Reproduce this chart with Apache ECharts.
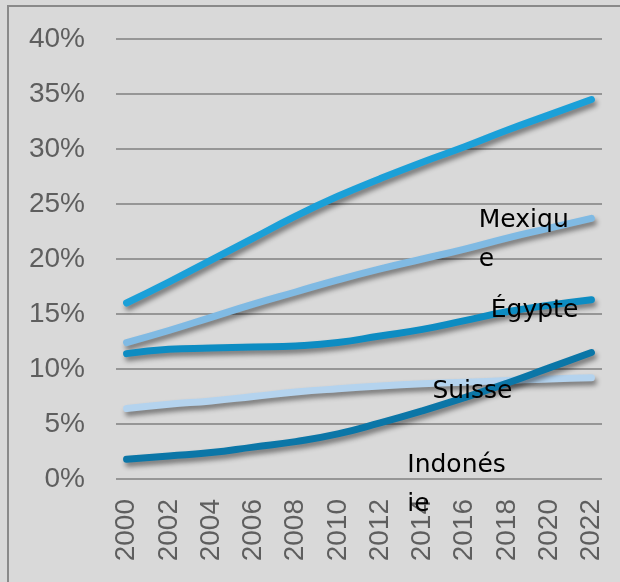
<!DOCTYPE html>
<html>
<head>
<meta charset="utf-8">
<script src="https://cdn.jsdelivr.net/npm/echarts@6/dist/echarts.min.js"></script>
<style>
  html, body { margin: 0; padding: 0; background: #d9d9d9; }
  #frame {
    position: absolute; left: 7px; top: 5px;
    width: 640px; height: 620px;
    border-left: 2px solid #8a8a8a; border-top: 2px solid #8a8a8a;
  }
  #chart { position: absolute; left: 0; top: 0; width: 620px; height: 582px; }
</style>
</head>
<body>
<div id="frame"></div>
<div id="chart"></div>
<script>
// categories: every year, labels every other year
const years = []
for (let y = 2000; y <= 2022; y++) years.push(String(y))
const pointYears = ['2000', '2002', '2004', '2006', '2008', '2010', '2012', '2014', '2016', '2018', '2020', '2022']

const serieHaute = [16.0, 17.9, 19.9, 21.9, 23.9, 25.7, 27.3, 28.8, 30.2, 31.7, 33.1, 34.5]
const mexique = [12.4, 13.5, 14.7, 15.9, 17.0, 18.1, 19.1, 20.0, 20.9, 21.9, 22.8, 23.7]
const egypte = [11.4, 11.8, 11.9, 12.0, 12.1, 12.4, 13.0, 13.6, 14.4, 15.2, 15.8, 16.3]
const suisse = [6.4, 6.8, 7.1, 7.5, 7.9, 8.2, 8.45, 8.65, 8.8, 8.95, 9.1, 9.2]
const indonesie = [1.8, 2.1, 2.4, 2.9, 3.4, 4.1, 5.1, 6.2, 7.4, 8.7, 10.1, 11.5]

const yTicks = [0, 5, 10, 15, 20, 25, 30, 35, 40]

const labelFont = 'DejaVu Sans'

function pairs(vals) {
  return vals.map((v, i) => [pointYears[i], v])
}

function tag(text, coord, dx, dy) {
  return {
    symbol: 'rect',
    symbolSize: 0,
    silent: true,
    label: {
      show: true,
      position: 'inside',
      align: 'left',
      verticalAlign: 'middle',
      color: '#000',
      fontFamily: labelFont,
      fontSize: 25,
      lineHeight: 39,
      offset: [dx, dy],
      formatter: text
    },
    data: [{ coord }]
  }
}

function line(name, color, vals, mark) {
  return {
    name,
    type: 'line',
    smooth: true,
    showSymbol: false,
    data: pairs(vals),
    lineStyle: {
      color,
      width: 7,
      cap: 'round',
      shadowColor: 'rgba(0,0,0,0.45)',
      shadowBlur: 5,
      shadowOffsetX: 2,
      shadowOffsetY: 4
    },
    itemStyle: { color },
    markPoint: mark
  }
}

const chart = echarts.init(document.getElementById('chart'))
chart.setOption({
  animation: false,
  backgroundColor: 'transparent',
  grid: { left: 116, right: 18, top: 39, bottom: 103 },
  xAxis: {
    type: 'category',
    data: years,
    boundaryGap: true,
    axisLine: { show: false },
    axisTick: { show: false },
    axisLabel: {
      interval: 1,
      rotate: 90,
      margin: 20,
      color: '#5e5e5e',
      fontFamily: 'Liberation Sans',
      fontSize: 28
    }
  },
  yAxis: {
    type: 'value',
    min: yTicks[0],
    max: yTicks[yTicks.length - 1],
    interval: 5,
    axisLine: { show: false },
    axisTick: { show: false },
    axisLabel: {
      margin: 31,
      color: '#5e5e5e',
      fontFamily: 'Liberation Sans',
      fontSize: 28,
      formatter: '{value}%'
    },
    splitLine: { lineStyle: { color: '#7f7f7f', width: 1.5 } }
  },
  series: [
    line('Série 1', '#1ba0d8', serieHaute),
    line('Mexique', '#80bae3', mexique, tag('Mexiqu\ne', ['2017', 21.9], -7, 2)),
    line('Égypte', '#0d8cc2', egypte, tag('Égypte', ['2017', 15.4], 5, 1)),
    line('Suisse', '#b4d3ee', suisse, tag('Suisse', ['2014', 8.2], 10, 3)),
    line('Indonésie', '#0b76a7', indonesie, tag('Indonés\nie', ['2013', 0], 6, 6))
  ]
})
</script>
</body>
</html>
